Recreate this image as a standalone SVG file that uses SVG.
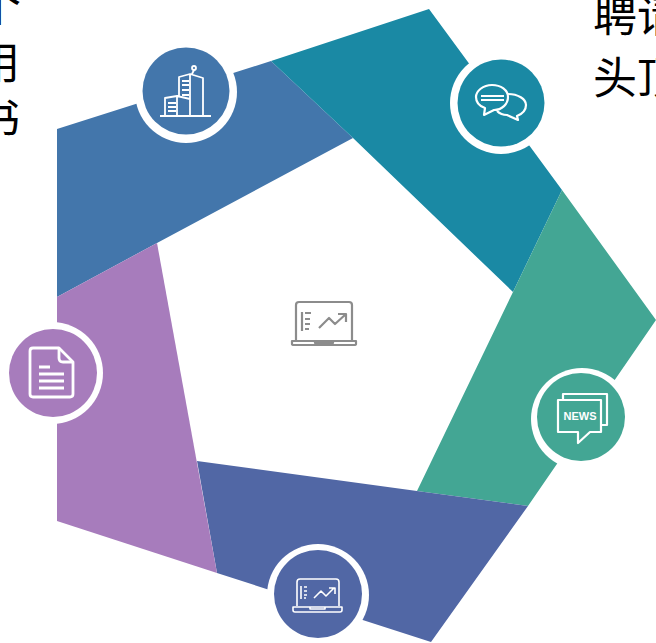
<svg xmlns="http://www.w3.org/2000/svg" width="656" height="643" viewBox="0 0 656 643">
<style>
.t{font-family:"Noto Sans CJK SC","Liberation Sans",sans-serif;font-size:44px;fill:#000}
.ring{fill:#fff}
.i{fill:none;stroke:#fff;stroke-width:2.2;stroke-linejoin:round}
.c{fill:none;stroke:#8c8c8c;stroke-width:2.2;stroke-linejoin:round}
</style>
<rect width="656" height="643" fill="#fff"/>
<g id="text-left">
<text class="t" x="-23" y="22">个</text>
<text class="t" x="-24" y="79">用</text>
<text class="t" x="-24" y="136">书</text>
</g>
<g id="text-right">
<text class="t" x="593" y="32">聘请</text>
<text class="t" x="593" y="94">头顶</text>
</g>
<g id="node-blue">
<polygon points="57,129 271,61 353,138 157,243 57,297" fill="#4376ab"/>
<circle class="ring" cx="186" cy="92" r="51"/>
<circle cx="186" cy="91" r="43.5" fill="#4376ab"/>
<g class="i" style="stroke-width:1.8">
<path d="M160,116H211M165,116V98L177,96V116M177,96L190,99V116M179,96V77L190,74V116M190,74L203,78V116M192,74L194,70"/>
<circle cx="194" cy="68" r="2"/>
<path d="M168,103H176M168,107H176M168,111H176M182,81H189M182,85H189M182,90H189M182,95H189"/>
</g>
</g>
<g id="node-teal">
<polygon points="271,61 429,9 562,190 513,292 353,138" fill="#1a89a4"/>
<circle class="ring" cx="501" cy="103" r="51"/>
<circle cx="501" cy="103" r="43.5" fill="#1a89a4"/>
<g class="i">
<path d="M492,85C483,85 476,91 476,97C476,102 479,106 485,108L484,115L494,110C502,110 508,104 508,97C508,90 501,85 492,85Z"/>
<path d="M481,96H504M481,100H504"/>
<path d="M508,94C518,94 526,99 526,105C526,110 522,114 517,116L518,120L507,115C503,115 499,113 497,111"/>
</g>
</g>
<g id="node-green">
<polygon points="562,190 656,320 528,506 417,491 513,292" fill="#43a694"/>
<circle class="ring" cx="582" cy="419" r="51"/>
<circle cx="581" cy="417" r="44" fill="#43a694"/>
<g class="i">
<path d="M558,400H601V432H590L578,443V432H558Z"/>
<path d="M563,400V394H607V425H601"/>
</g>
<text x="580" y="420" text-anchor="middle" font-family="Liberation Sans,sans-serif" font-size="11" font-weight="700" fill="#fff">NEWS</text>
</g>
<g id="node-indigo">
<polygon points="197,461 417,491 528,506 431,642 217,573" fill="#5167a5"/>
<circle class="ring" cx="318" cy="595" r="51"/>
<circle cx="318" cy="594" r="44" fill="#5167a5"/>
<g class="i" style="stroke-width:1.6">
<path d="M297,606V582Q297,579 300,579H336Q339,579 339,582V606"/>
<path d="M293,607H342V610Q342,612 340,612H295Q293,612 293,610Z"/>
<path d="M310,607V609H325V607"/>
<path d="M301,586V599M304,587H307M304,591H307M304,595H307M304,598H306M314,598L321,591L326,596L334,588M329,588H335V594"/>
</g>
</g>
<g id="node-purple">
<polygon points="57,297 157,243 217,573 57,521" fill="#a77cbc"/>
<circle class="ring" cx="52" cy="373" r="51"/>
<circle cx="53" cy="373" r="44" fill="#a77cbc"/>
<g class="i" style="stroke-width:2.8">
<path d="M59,348H33Q30,348 30,351V394Q30,397 33,397H70Q73,397 73,394V362Z"/>
<path d="M59,348V358Q59,362 63,362H73"/>
<path d="M39,367H50M39,374H64M39,381H64M39,388H64"/>
</g>
</g>
<g id="node-center">
<g class="c">
<path d="M296,341V305Q296,302 299,302H349Q352,302 352,305V341"/>
<path d="M292,341H356V344Q356,345 354,345H294Q292,345 292,344Z"/>
<path d="M315,341V343H333V341"/>
<path d="M302,312V331M305,313H311M305,319H310M305,324H310M305,329H309M319,328L329,318L335,324L346,314M338,314H346V322"/>
</g>
</g>
</svg>
